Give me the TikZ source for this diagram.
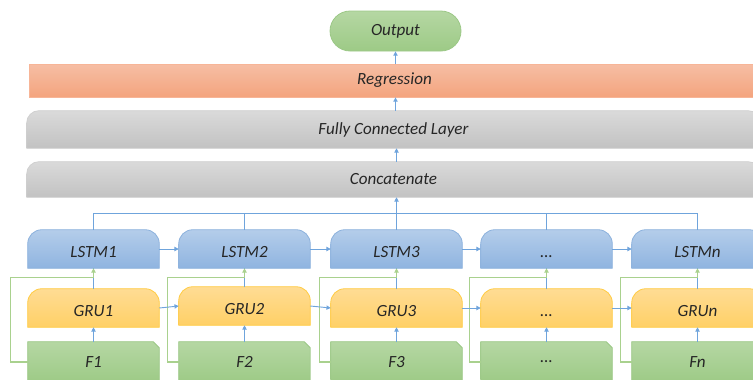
\documentclass[tikz,border=0pt]{standalone}
\usepackage{fontspec}
\setmainfont{Carlito}
\usetikzlibrary{arrows.meta,backgrounds,shapes.misc,calc}

\definecolor{txt}{HTML}{262626}
\definecolor{lineblue}{HTML}{6FA4DC}
\definecolor{linegreen}{HTML}{A9D18E}
\definecolor{blueTop}{HTML}{B4CDEA}
\definecolor{blueBot}{HTML}{8FB4E0}
\definecolor{blueEdge}{HTML}{8DB2DD}
\definecolor{yelTop}{HTML}{FFDC94}
\definecolor{yelBot}{HTML}{FFD066}
\definecolor{yelEdge}{HTML}{FFCC45}
\definecolor{grnTop}{HTML}{B5D7A3}
\definecolor{grnBot}{HTML}{9DCA86}
\definecolor{grnEdge}{HTML}{9CC887}
\definecolor{gryTop}{HTML}{DADADA}
\definecolor{gryBot}{HTML}{C2C2C2}
\definecolor{gryEdge}{HTML}{D0D0D0}
\definecolor{orgTop}{HTML}{F6BEA4}
\definecolor{orgBot}{HTML}{F4A47E}
\definecolor{orgEdge}{HTML}{F7B597}

\tikzset{
  lbl/.style={inner sep=0pt, font=\fontsize{12.8}{15}\selectfont\itshape, text=txt},
  % labels under a rounded top sit a little below the middle
  cell/.style={lbl, minimum width=98.25pt, minimum height=28.5pt, text height=12.5pt, text depth=0pt},
  fcell/.style={lbl, minimum width=98.25pt, minimum height=30pt},
  bar/.style={lbl, minimum width=549.75pt},
  bluefill/.style={top color=blueTop, bottom color=blueBot, draw=blueEdge, line width=0.6pt},
  yellowfill/.style={top color=yelTop, bottom color=yelBot, draw=yelEdge, line width=0.6pt},
  greenfill/.style={top color=grnTop, bottom color=grnBot, draw=grnEdge, line width=0.6pt},
  grayfill/.style={top color=gryTop, bottom color=gryBot, draw=gryEdge, line width=0.6pt},
  orangefill/.style={top color=orgTop, bottom color=orgBot, draw=orgEdge, line width=0.6pt},
  bline/.style={draw=lineblue, line width=0.7pt},
  barrow/.style={bline, -{Triangle[length=3.2pt,width=3.2pt]}},
  garrow/.style={draw=linegreen, line width=0.8pt, -{Triangle[length=3.2pt,width=3.2pt]}},
}

% box with both upper corners rounded
\newcommand\toproundbox[3]{%
  \path[#3] (#1.south west) -- ([yshift=-#2]#1.north west)
    arc[start angle=180,end angle=90,radius=#2]
    -- ([xshift=-#2]#1.north east)
    arc[start angle=90,end angle=0,radius=#2]
    -- (#1.south east) -- cycle;}
% box with the upper right corner cut off
\newcommand\snipbox[3]{%
  \path[#3] (#1.south west) -- (#1.north west) -- ([xshift=-#2]#1.north east)
    -- ([yshift=-#2]#1.north east) -- (#1.south east) -- cycle;}

\begin{document}
\begin{tikzpicture}[x=0.75pt,y=0.75pt]
\useasboundingbox (0,0) rectangle (753,-379);
\clip (0,0) rectangle (753,-379);

% head of the network
\node[lbl, shape=rounded rectangle, minimum width=98.25pt, minimum height=30pt,
      greenfill] (out) at (395.5,-31) {Output};
\node[bar, minimum width=548.25pt, minimum height=24.75pt, orangefill] (reg) at (394.5,-80.5) {Regression};
\node[bar, minimum height=27.75pt] (fc) at (393.5,-129.5) {Fully Connected Layer};
\node[bar, minimum height=26.25pt] (cat) at (393.5,-179.5) {Concatenate};

% recurrent columns
\node[cell] (l1) at (93.5,-249) {LSTM1};
\node[cell] (l2) at (244.5,-249) {LSTM2};
\node[cell] (l3) at (396.5,-249) {LSTM3};
\node[cell] (l4) at (546.5,-249) {...};
\node[cell] (l5) at (697.5,-249) {LSTMn};

\node[cell] (g1) at (93.5,-308) {GRU1};
\node[cell] (g2) at (244.5,-306) {GRU2};
\node[cell] (g3) at (396.5,-308) {GRU3};
\node[cell] (g4) at (546.5,-308) {...};
\node[cell] (g5) at (697.5,-308) {GRUn};

\node[fcell] (f1) at (93.5,-362) {F1};
\node[fcell] (f2) at (244.5,-362) {F2};
\node[fcell] (f3) at (396.5,-362) {F3};
\node[fcell] (f4) at (546.5,-362) {...};
\node[fcell] (f5) at (697.5,-362) {Fn};

\begin{scope}[on background layer]
  \toproundbox{fc}{9pt}{grayfill}
  \toproundbox{cat}{9pt}{grayfill}
  \foreach \i in {1,...,5}{
    \toproundbox{l\i}{10.5pt}{bluefill}
    \toproundbox{g\i}{10.5pt}{yellowfill}
    \snipbox{f\i}{4.5pt}{greenfill}
  }
\end{scope}

% feature -> GRU -> LSTM, with the skip path from each feature
\foreach \i/\d in {1/17,2/11,3/11,4/11,5/11}{
  \draw[barrow] (f\i.north) -- (g\i.south);
  \draw[bline] (g\i.north) -- (l\i.south);
  \draw[garrow] (f\i.west) -- ++(-\d,0) |- ($(l\i.south)+(0,-9)$) -- (l\i.south);
}

% sequence links
\foreach \a/\b in {1/2,2/3,3/4,4/5}{
  \draw[barrow] (l\a.east) -- (l\b.west);
  \draw[barrow] (g\a.east) -- (g\b.west);
}

% gather all LSTM outputs
\draw[bline] (l1.north) -- ++(0,16) -| (l5.north);
\draw[bline] (l2.north) -- ++(0,16);
\draw[bline] (l4.north) -- ++(0,16);
\draw[barrow] (l3.north) -- (cat.south -| l3.north);
\draw[barrow] (cat.north -| l3.north) -- (fc.south -| l3.north);
\draw[barrow] (fc.north -| out.south) -- (reg.south -| out.south);
\draw[barrow] (reg.north -| out.south) -- (out.south);
\end{tikzpicture}
\end{document}
